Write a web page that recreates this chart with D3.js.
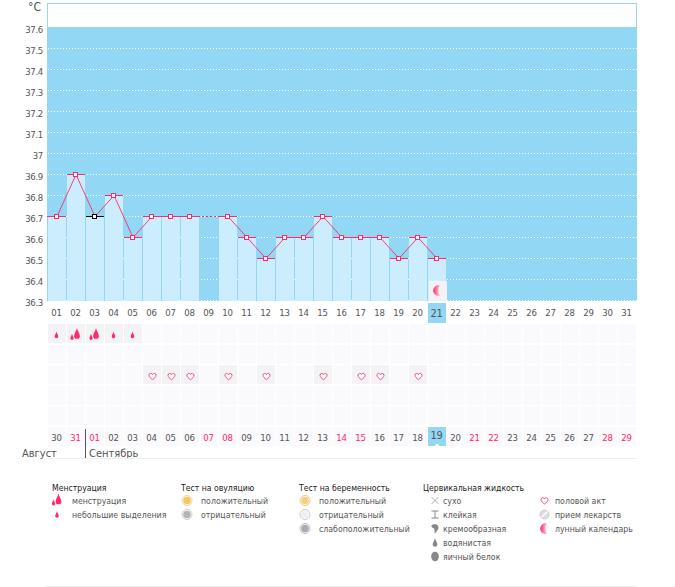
<!DOCTYPE html>
<html>
<head>
<meta charset="utf-8">
<script src="https://cdn.jsdelivr.net/npm/d3@7"></script>
<style>
  body { margin: 0; background: #fff; }
  svg { display: block; }
  text { font-family: "DejaVu Sans Condensed", "DejaVu Sans", sans-serif; font-stretch: condensed; fill: #555; }
</style>
</head>
<body>
<svg></svg>
<script>
const dayLabels = ['01','02','03','04','05','06','07','08','09','10','11','12','13','14','15','16','17','18','19','20','21','22','23','24','25','26','27','28','29','30','31'];
const temperatures = [36.7,36.9,36.7,36.8,36.6,36.7,36.7,36.7,null,36.7,36.6,36.5,36.6,36.6,36.7,36.6,36.6,36.6,36.5,36.6,36.5];
const yTicks = [37.6,37.5,37.4,37.3,37.2,37.1,37,36.9,36.8,36.7,36.6,36.5,36.4,36.3];
const dateLabels = ['30','31','01','02','03','04','05','06','07','08','09','10','11','12','13','14','15','16','17','18','19','20','21','22','23','24','25','26','27','28','29'];
const redDates = ['31','01','07','08','14','15','21','22','28','29'];
const flowDays = ['01','02','03','04','05'];
const flowKinds = ['spot','flow','flow','spot','spot'];
const loveDays = ['06','07','08','10','12','15','17','18','20'];
const selectedDay = '03';
const todayColumn = '21';
const moonDay = '21';
const todayDate = '19';
const rowIds = [0,1,2,3,4,5];

const legendHeaders = ['Менструация','Тест на овуляцию','Тест на беременность','Цервикальная жидкость'];
const legendMenses = ['менструация','небольшие выделения'];
const legendOvulation = ['положительный','отрицательный'];
const legendPregnancy = ['положительный','отрицательный','слабоположительный'];
const legendFluid = ['сухо','клейкая','кремообразная','водянистая','яичный белок'];
const legendOther = ['половой акт','прием лекарств','лунный календарь'];

const blue = '#92d8f5';
const barBlue = '#ccedfe';
const pink = '#ff2a6a';
const grey = '#555';

const svg = d3.select('svg').attr('width', 675).attr('height', 587);

const xScale = d3.scaleBand().domain(dayLabels).range([48, 637]);
const yScale = d3.scaleLinear().domain([36.3, 37.6]).range([300.2, 27.2]);
const rowScale = d3.scaleBand().domain(rowIds).range([324, 447.6]);
const cellWidth = 18;
const cellHeight = 19;

const chartBottom = 301;

// top box and blue field
svg.append('rect').attr('x', 47.5).attr('y', 3.5).attr('width', 589).attr('height', 24)
  .attr('fill', '#fff').attr('stroke', blue);
svg.append('rect').attr('x', 47).attr('y', 27).attr('width', 590).attr('height', chartBottom - 27)
  .attr('fill', blue);

// gridlines
svg.append('g').selectAll('line')
  .data(yTicks.slice(1))
  .enter()
  .append('line')
  .attr('x1', 48).attr('x2', 637)
  .attr('y1', d => Math.round(yScale(d)) + 0.5)
  .attr('y2', d => Math.round(yScale(d)) + 0.5)
  .attr('stroke', '#fff')
  .attr('stroke-dasharray', '1,2');

const points = dayLabels
  .map((day, i) => ({day, value: temperatures[i]}))
  .filter(d => d.value !== null && d.value !== undefined);

// bars
svg.append('g').selectAll('rect')
  .data(points)
  .enter()
  .append('rect')
  .attr('x', d => xScale(d.day))
  .attr('y', d => Math.round(yScale(d.value)))
  .attr('width', cellWidth)
  .attr('height', d => chartBottom - Math.round(yScale(d.value)))
  .attr('fill', barBlue);

// moon cell
svg.append('rect').attr('x', xScale(moonDay) + 1).attr('y', 281).attr('width', cellWidth).attr('height', 19.5).attr('fill', '#f3f3f5');
drawMoon(svg.append('g').attr('transform', `translate(${xScale(moonDay) + 9.5},290.5)`), 1);

// line, broken into solid runs with a dotted bridge over the missing day
const center = d => xScale(d.day) + cellWidth / 2;
const lineGen = d3.line().x(center).y(d => Math.round(yScale(d.value)) + 0.5);
const gapIndex = points.findIndex(d => d.day === '10');
svg.append('path').datum(points.slice(0, gapIndex))
  .attr('d', lineGen).attr('fill', 'none').attr('stroke', pink).attr('stroke-width', 0.9);
svg.append('path').datum(points.slice(gapIndex - 1, gapIndex + 1))
  .attr('d', lineGen).attr('fill', 'none').attr('stroke', pink).attr('stroke-dasharray', '2,2');
svg.append('path').datum(points.slice(gapIndex))
  .attr('d', lineGen).attr('fill', 'none').attr('stroke', pink).attr('stroke-width', 0.9);

// caps
svg.append('g').selectAll('line')
  .data(points)
  .enter()
  .append('line')
  .attr('x1', d => xScale(d.day) - (d.day === '01' ? 1 : 0))
  .attr('x2', d => xScale(d.day) + cellWidth)
  .attr('y1', d => Math.round(yScale(d.value)) + 0.5)
  .attr('y2', d => Math.round(yScale(d.value)) + 0.5)
  .attr('stroke', d => d.day === selectedDay ? '#000' : pink);

// markers
svg.append('g').selectAll('rect')
  .data(points)
  .enter()
  .append('rect')
  .attr('x', d => Math.round(center(d)) - 2.5)
  .attr('y', d => Math.round(yScale(d.value)) - 1.5)
  .attr('width', 4)
  .attr('height', 4)
  .attr('fill', '#fff')
  .attr('stroke', d => d.day === selectedDay ? '#000' : pink);

const tickStyle = sel => sel.style('font-size', '9.5px').style('letter-spacing', '-0.3px');

// y axis
const yAxis = svg.append('g')
  .attr('transform', 'translate(46,2.6)')
  .call(d3.axisLeft(yScale).tickValues(yTicks).tickSize(0).tickPadding(3).tickFormat(d => String(d)));
yAxis.select('.domain').remove();
yAxis.selectAll('text').call(tickStyle);

svg.append('text').attr('x', 28).attr('y', 11).attr('font-size', 12).text('°C');

// day axis
svg.append('rect').attr('x', xScale(todayColumn)).attr('y', 303).attr('width', cellWidth).attr('height', 20).attr('fill', blue);
const xAxis = svg.append('g')
  .attr('transform', 'translate(-1,306.5)')
  .call(d3.axisBottom(xScale).tickSize(0).tickPadding(3));
xAxis.select('.domain').remove();
xAxis.selectAll('text').call(tickStyle);
xAxis.selectAll('text').filter(d => d === todayColumn).style('font-size', '11px');

// icon grid
const cells = [];
rowIds.forEach(row => dayLabels.forEach(day => cells.push({row, day})));
const activeCells = new Set(flowDays.map(d => '0|' + d).concat(loveDays.map(d => '2|' + d)));
svg.append('g').selectAll('rect')
  .data(cells)
  .enter()
  .append('rect')
  .attr('x', d => xScale(d.day))
  .attr('y', d => Math.round(rowScale(d.row)))
  .attr('width', cellWidth)
  .attr('height', cellHeight)
  .attr('fill', d => activeCells.has(d.row + '|' + d.day) ? '#f3f3f5' : '#faf9fb');

flowDays.forEach((day, i) => {
  const g = svg.append('g').attr('transform', `translate(${xScale(day) + 8.5},${rowScale(0) + 11})`);
  if (flowKinds[i] === 'flow') drawFlow(g); else drawDrop(g, pink, 1);
});
loveDays.forEach(day => {
  drawHeart(svg.append('g').attr('transform', `translate(${xScale(day) + 9.5},${rowScale(2) + 11})`));
});

// date row
const dateScale = d3.scaleBand().domain(dateLabels).range([48, 637]);
svg.append('rect').attr('x', dateScale(todayDate)).attr('y', 427).attr('width', cellWidth).attr('height', 19).attr('fill', blue);
svg.append('path').attr('d', `M${dateScale(todayDate) + 9},443.5l2.5,2.5h-5z`).attr('fill', '#fff');
const dateAxis = svg.append('g')
  .attr('transform', 'translate(-1,431)')
  .call(d3.axisBottom(dateScale).tickSize(0).tickPadding(3));
dateAxis.select('.domain').remove();
dateAxis.selectAll('text')
  .call(tickStyle)
  .style('fill', d => redDates.includes(d) ? pink : grey)
  .attr('dy', d => d === todayDate ? '0.45em' : '0.71em');
dateAxis.selectAll('text').filter(d => d === todayDate).style('font-size', '11px');

// months
svg.append('line').attr('x1', 85.5).attr('x2', 85.5).attr('y1', 429).attr('y2', 458).attr('stroke', '#555');
svg.append('text').attr('x', 22).attr('y', 457).attr('font-size', 11).text('Август');
svg.append('text').attr('x', 89).attr('y', 457).attr('font-size', 11).text('Сентябрь');
svg.append('line').attr('x1', 46).attr('x2', 637).attr('y1', 458.5).attr('y2', 458.5).attr('stroke', '#eee');
svg.append('line').attr('x1', 46).attr('x2', 637).attr('y1', 586.5).attr('y2', 586.5).attr('stroke', '#eee');

// legend
const legendRow = d3.scaleLinear().domain([0, 4]).range([500.5, 556.5]);
[52, 181, 299, 423].forEach((x, i) => {
  svg.append('text').attr('x', x).attr('y', 490.5).attr('font-size', 8.6)
    .style('fill', '#222').style('font-weight', 500).text(legendHeaders[i]);
});

function legendColumn(labels, textX, iconX, icons) {
  labels.forEach((label, i) => {
    svg.append('text').attr('x', textX).attr('y', legendRow(i) + 3.2).attr('font-size', 8.7).text(label);
    icons[i](svg.append('g').attr('transform', `translate(${iconX},${legendRow(i)})`));
  });
}

legendColumn(legendMenses, 72, 57, [drawFlow, g => drawDrop(g, pink, 1)]);
legendColumn(legendOvulation, 201, 187, [
  g => drawTarget(g, '#f5c46c', '#f5cf85'),
  g => drawTarget(g, '#b5b5b5', '#ccc')
]);
legendColumn(legendPregnancy, 319, 305, [
  g => drawTarget(g, '#f5cf85', '#f3c877'),
  g => drawTarget(g, '#f0f0f0', '#ccc'),
  g => drawTarget(g, '#aaa', '#bbb')
]);
legendColumn(legendFluid, 443, 435, [drawDry, drawSticky, drawCreamy, g => drawDrop(g, '#888', 1.3), g => drawEgg(g)]);
legendColumn(legendOther, 555, 544.5, [drawHeart, drawPill, g => drawMoon(g, 1)]);

// icon shapes, all centred on the group origin
function drawDrop(g, color, size) {
  g.append('path')
    .attr('d', 'M0,-3.5C0.4,-1.5 1.8,0 1.8,1.5A1.8,1.8 0 0 1 -1.8,1.5C-1.8,0 -0.4,-1.5 0,-3.5Z')
    .attr('transform', `scale(${size})`)
    .attr('fill', color);
}
function drawEgg(g) {
  g.append('ellipse').attr('rx', 3.8).attr('ry', 4.8).attr('fill', '#888');
}
function drawFlow(g) {
  drawDrop(g.append('g').attr('transform', 'translate(1.5,-1.5)'), pink, 1.6);
  drawDrop(g.append('g').attr('transform', 'translate(-3.5,2)'), pink, 0.9);
}
function drawHeart(g) {
  g.append('path')
    .attr('d', 'M0,3.5C-2,2 -3.5,0.6 -3.5,-1A1.8,1.8 0 0 1 0,-1.6A1.8,1.8 0 0 1 3.5,-1C3.5,0.6 2,2 0,3.5Z')
    .attr('fill', '#fff').attr('stroke', '#ff4a80').attr('stroke-width', 1);
}
function drawMoon(g, size) {
  const id = 'moon' + Math.random().toString(36).slice(2);
  const grad = g.append('linearGradient').attr('id', id);
  grad.append('stop').attr('offset', '0%').attr('stop-color', '#ff2a6a');
  grad.append('stop').attr('offset', '100%').attr('stop-color', '#ffc8da');
  g.append('path')
    .attr('d', 'M2.5,-5.2A5.4,5.4 0 1 0 2.5,5.2A9,9 0 0 1 2.5,-5.2Z')
    .attr('transform', `scale(${size})`)
    .attr('fill', `url(#${id})`);
}
function drawTarget(g, inner, outer) {
  g.append('circle').attr('r', 5).attr('fill', '#fff').attr('stroke', outer);
  g.append('circle').attr('r', 3.8).attr('fill', inner);
}
function drawDry(g) {
  g.append('path').attr('d', 'M-3.5,-3.5L3.5,3.5M3.5,-3.5L-3.5,3.5').attr('stroke', '#999').attr('stroke-width', 0.8).attr('fill', 'none');
}
function drawSticky(g) {
  g.append('path').attr('d', 'M-3.5,-3.5H3.5M-3.5,3.5H3.5M0,-3.5V3.5').attr('stroke', '#888').attr('fill', 'none');
}
function drawCreamy(g) {
  g.append('path')
    .attr('d', 'M-3.5,-3C-1,-5.5 4,-4 3.5,-0.5C3,2.5 0.5,3 0,5.5C-1,3 0,1 -1,0C-2,-1 -4,-1 -3.5,-3Z')
    .attr('fill', '#888');
}
function drawPill(g) {
  g.append('circle').attr('r', 4.5).attr('fill', '#ddd').attr('stroke', '#ccc');
  g.append('line').attr('x1', -3).attr('y1', 3).attr('x2', 3).attr('y2', -3).attr('stroke', '#fff').attr('stroke-width', 1.2);
}
</script>
</body>
</html>
